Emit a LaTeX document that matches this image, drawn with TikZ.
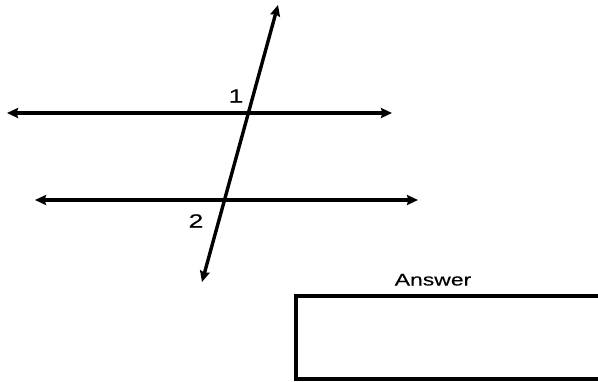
\documentclass[tikz,border=0pt]{standalone}
\usepackage{fontspec}
\setmainfont{Liberation Sans}
\newfontfamily\labfont[FakeStretch=1.4,FakeBold=0.2]{Liberation Sans}
\newfontfamily\ansfont[FakeStretch=1.35,FakeBold=0.2]{Liberation Sans}
\usetikzlibrary{arrows.meta}
\begin{document}
\begin{tikzpicture}[x=1pt,y=-1pt,
  ray/.style={line width=3.4pt,{Stealth[length=11pt,width=10pt,inset=1.5pt]}-{Stealth[length=11pt,width=10pt,inset=1.5pt]}},
  lab/.style={font=\labfont\fontsize{19}{22}\selectfont,inner sep=0pt,anchor=base},
  anslab/.style={font=\ansfont\fontsize{17}{20}\selectfont,inner sep=0pt,anchor=base}]
\useasboundingbox (0,0) rectangle (598,381);
\clip (0,0) rectangle (598,381);
\coordinate (a1) at (7,113);
\coordinate (a2) at (392,113);
\coordinate (b1) at (35,200);
\coordinate (b2) at (418,200);
\coordinate (t1) at (202,282);
\coordinate (t2) at (278,5);
\draw[ray] (a1) -- (a2);
\draw[ray] (b1) -- (b2);
\draw[ray] (t1) -- (t2);
\node[lab] (n1) at (236,102.5) {1};
\node[lab] (n2) at (196,227.5) {2};
\node[anslab] (ans) at (433,285.5) {Answer};
\draw[line width=4.2pt] (296,296) rectangle (610,379);
\end{tikzpicture}
\end{document}
